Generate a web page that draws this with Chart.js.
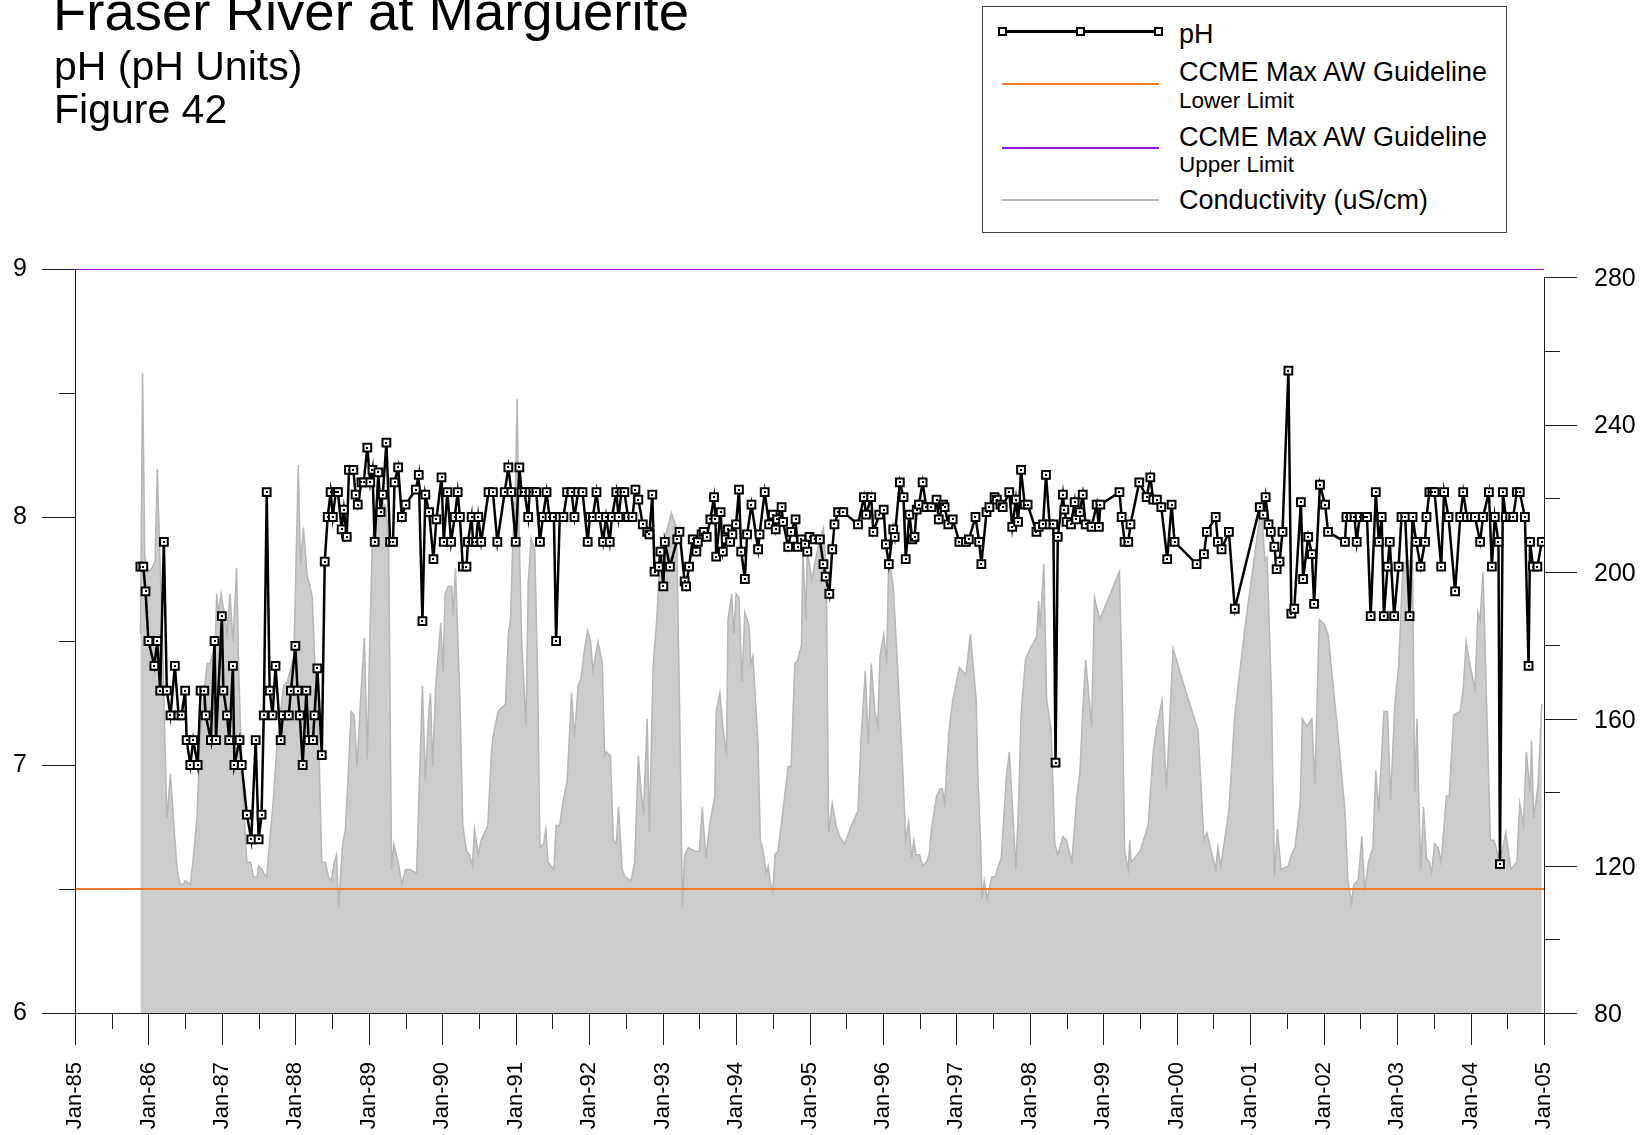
<!DOCTYPE html>
<html>
<head>
<meta charset="utf-8">
<title>Fraser River at Marguerite - pH</title>
<script src="https://cdn.jsdelivr.net/npm/chart.js@4.4.1/dist/chart.umd.min.js"></script>
<style>
  html, body { margin: 0; padding: 0; background: #fff; }
  #wrap { position: relative; width: 1650px; height: 1135px; overflow: hidden;
          font-family: "Liberation Sans", Arial, sans-serif; color: #000; }
  #chart { position: absolute; left: 0; top: 0; }
  .t { position: absolute; white-space: nowrap; }
  #title { left: 53px; top: -15px; font-size: 54.5px; line-height: 54px; }
  .sub { left: 54px; font-size: 41px; line-height: 40px; }
  #legend { position: absolute; left: 982px; top: 6px; width: 525px; height: 227px;
            box-sizing: border-box; border: 1px solid #444; background: #fff; }
  #legend .line { position: absolute; left: 19px; width: 157px; height: 2px; }
  #legend .mark { position: absolute; top: 20px; width: 9px; height: 9px; box-sizing: border-box;
                  border: 2px solid #000; background: #fff; }
  #legend .lt { position: absolute; left: 196px; font-size: 27px; line-height: 26px; white-space: nowrap; }
  #legend .ls { position: absolute; left: 196px; font-size: 22.5px; line-height: 21px; white-space: nowrap; }
</style>
</head>
<body>
<div id="wrap">
  <canvas id="chart" width="1650" height="1135"></canvas>

  <div class="t" id="title">Fraser River at Marguerite</div>
  <div class="t sub" style="top:46px">pH (pH Units)</div>
  <div class="t sub" style="top:89px">Figure 42</div>

  <div id="legend">
    <div class="line" style="top:23px;height:3px;background:#000"></div>
    <div class="mark" style="left:15px"></div>
    <div class="mark" style="left:93px"></div>
    <div class="mark" style="left:171px"></div>
    <div class="lt" style="top:14px">pH</div>

    <div class="line" id="lgLower" style="top:76px"></div>
    <div class="lt" style="top:52px">CCME Max AW Guideline</div>
    <div class="ls" style="top:83px">Lower Limit</div>

    <div class="line" id="lgUpper" style="top:140px"></div>
    <div class="lt" style="top:117px">CCME Max AW Guideline</div>
    <div class="ls" style="top:147px">Upper Limit</div>

    <div class="line" id="lgCond" style="top:192px"></div>
    <div class="lt" style="top:180px">Conductivity (uS/cm)</div>
  </div>
</div>

<script>
// pH samples: decimal year of sampling and value (one line per calendar year)
const phYears = [
  1985.89, 1985.93, 1985.96,
  1986.00, 1986.08, 1986.12, 1986.16, 1986.21, 1986.25, 1986.30, 1986.36, 1986.41, 1986.45, 1986.50, 1986.52, 1986.57, 1986.61, 1986.67, 1986.71, 1986.76, 1986.78, 1986.85, 1986.90, 1986.92,
  1987.00, 1987.02, 1987.07, 1987.10, 1987.15, 1987.17, 1987.24, 1987.27, 1987.34, 1987.40, 1987.46, 1987.50, 1987.54, 1987.57, 1987.61, 1987.65, 1987.69, 1987.73, 1987.80, 1987.83, 1987.91, 1987.94,
  1988.00, 1988.03, 1988.06, 1988.10, 1988.15, 1988.18, 1988.24, 1988.26, 1988.30, 1988.36, 1988.40, 1988.44, 1988.48, 1988.51, 1988.55, 1988.58, 1988.63, 1988.66, 1988.70, 1988.73, 1988.79, 1988.82, 1988.85, 1988.90, 1988.93, 1988.98,
  1989.02, 1989.05, 1989.08, 1989.13, 1989.16, 1989.19, 1989.24, 1989.29, 1989.33, 1989.35, 1989.40, 1989.45, 1989.50, 1989.64, 1989.68, 1989.73, 1989.77, 1989.82, 1989.88, 1989.92, 1989.99,
  1990.02, 1990.07, 1990.12, 1990.17, 1990.21, 1990.24, 1990.28, 1990.33, 1990.35, 1990.40, 1990.42, 1990.46, 1990.49, 1990.53, 1990.63, 1990.69, 1990.75, 1990.85, 1990.90, 1990.94,
  1991.00, 1991.05, 1991.08, 1991.12, 1991.17, 1991.19, 1991.24, 1991.28, 1991.33, 1991.37, 1991.42, 1991.46, 1991.52, 1991.55, 1991.60, 1991.65, 1991.70, 1991.76, 1991.80, 1991.85, 1991.91, 1991.98,
  1992.01, 1992.05, 1992.10, 1992.14, 1992.19, 1992.23, 1992.28, 1992.31, 1992.37, 1992.40, 1992.44, 1992.48, 1992.53, 1992.59, 1992.63, 1992.67, 1992.73, 1992.79, 1992.82, 1992.86, 1992.89, 1992.95, 1992.97,
  1993.01, 1993.03, 1993.10, 1993.20, 1993.23, 1993.30, 1993.32, 1993.36, 1993.41, 1993.46, 1993.48, 1993.53, 1993.56, 1993.60, 1993.65, 1993.70, 1993.72, 1993.73, 1993.79, 1993.82, 1993.86, 1993.89, 1993.92, 1993.95,
  1994.00, 1994.04, 1994.07, 1994.12, 1994.15, 1994.21, 1994.30, 1994.32, 1994.39, 1994.45, 1994.50, 1994.54, 1994.56, 1994.62, 1994.64, 1994.71, 1994.75, 1994.81, 1994.84, 1994.89, 1994.94, 1994.97,
  1995.00, 1995.07, 1995.14, 1995.19, 1995.22, 1995.27, 1995.31, 1995.34, 1995.39, 1995.46, 1995.66, 1995.74, 1995.77, 1995.84, 1995.87, 1995.95,
  1996.01, 1996.04, 1996.08, 1996.14, 1996.16, 1996.23, 1996.28, 1996.31, 1996.36, 1996.40, 1996.43, 1996.46, 1996.49, 1996.54, 1996.59, 1996.66, 1996.73, 1996.76, 1996.82, 1996.84, 1996.89, 1996.95,
  1997.04, 1997.13, 1997.17, 1997.26, 1997.31, 1997.34, 1997.41, 1997.45, 1997.52, 1997.55, 1997.60, 1997.63, 1997.72, 1997.76, 1997.81, 1997.84, 1997.88, 1997.93, 1997.97,
  1998.09, 1998.12, 1998.18, 1998.22, 1998.27, 1998.32, 1998.35, 1998.38, 1998.45, 1998.47, 1998.50, 1998.56, 1998.61, 1998.63, 1998.68, 1998.72, 1998.76, 1998.84, 1998.91, 1998.94, 1998.96,
  1999.22, 1999.25, 1999.29, 1999.34, 1999.37, 1999.49, 1999.59, 1999.64, 1999.68, 1999.73, 1999.79, 1999.87, 1999.93, 1999.97,
  2000.27, 2000.37, 2000.41, 2000.53, 2000.56, 2000.61, 2000.71, 2000.79,
  2001.13, 2001.18, 2001.21, 2001.25, 2001.28, 2001.33, 2001.36, 2001.40, 2001.44, 2001.52, 2001.56, 2001.60, 2001.69, 2001.72, 2001.79, 2001.84, 2001.87, 2001.95,
  2002.02, 2002.06, 2002.29, 2002.31, 2002.37, 2002.42, 2002.45, 2002.49, 2002.56, 2002.59, 2002.64, 2002.71, 2002.75, 2002.79, 2002.82, 2002.87, 2002.90, 2002.96,
  2003.02, 2003.06, 2003.11, 2003.17, 2003.21, 2003.26, 2003.32, 2003.38, 2003.40, 2003.44, 2003.48, 2003.51, 2003.60, 2003.64, 2003.70, 2003.79, 2003.86, 2003.90, 2003.95,
  2004.01, 2004.06, 2004.13, 2004.17, 2004.25, 2004.29, 2004.33, 2004.38, 2004.40, 2004.44, 2004.48, 2004.54, 2004.58, 2004.63, 2004.67, 2004.74, 2004.79, 2004.81, 2004.85, 2004.91, 2004.97
];
const phValues = [
  7.80, 7.80, 7.70,
  7.50, 7.40, 7.50, 7.30, 7.90, 7.30, 7.20, 7.40, 7.20, 7.20, 7.30, 7.10, 7.00, 7.10, 7.00, 7.30, 7.30, 7.20, 7.10, 7.50, 7.10,
  7.60, 7.30, 7.20, 7.10, 7.40, 7.00, 7.10, 7.00, 6.80, 6.70, 7.10, 6.70, 6.80, 7.20, 8.10, 7.30, 7.20, 7.40, 7.10, 7.20, 7.20, 7.30,
  7.48, 7.30, 7.20, 7.00, 7.30, 7.10, 7.10, 7.20, 7.39, 7.04, 7.82, 8.00, 8.10, 8.00, 8.10, 8.10, 7.95, 8.03, 7.92, 8.19, 8.19, 8.09, 8.05, 8.14, 8.14, 8.28,
  8.14, 8.19, 7.90, 8.18, 8.02, 8.09, 8.30, 7.90, 7.90, 8.14, 8.20, 8.00, 8.05, 8.11, 8.17, 7.58, 8.09, 8.02, 7.83, 7.99, 8.16,
  7.90, 8.10, 7.90, 8.00, 8.10, 8.00, 7.80, 7.80, 7.90, 8.00, 7.90, 7.90, 8.00, 7.90, 8.10, 8.10, 7.90, 8.10, 8.20, 8.10,
  7.90, 8.20, 8.10, 8.10, 8.00, 8.10, 8.10, 8.10, 7.90, 8.00, 8.10, 8.00, 8.00, 7.50, 8.00, 8.00, 8.10, 8.10, 8.00, 8.10, 8.10, 7.90,
  8.00, 8.00, 8.10, 8.00, 7.90, 8.00, 7.90, 8.00, 8.10, 8.00, 8.10, 8.10, 8.00, 8.00, 8.11, 8.07, 7.97, 7.94, 7.93, 8.09, 7.78, 7.80, 7.86,
  7.72, 7.90, 7.80, 7.91, 7.94, 7.74, 7.72, 7.80, 7.91, 7.86, 7.90, 7.93, 7.94, 7.92, 7.99, 8.08, 7.99, 7.84, 8.02, 7.86, 7.91, 7.95, 7.90, 7.93,
  7.97, 8.11, 7.86, 7.75, 7.93, 8.05, 7.87, 7.93, 8.10, 7.97, 8.01, 7.95, 7.99, 8.04, 7.98, 7.88, 7.94, 7.99, 7.88, 7.91, 7.89, 7.86,
  7.92, 7.91, 7.91, 7.81, 7.76, 7.69, 7.87, 7.97, 8.02, 8.02, 7.97, 8.08, 8.01, 8.08, 7.94, 8.01,
  8.03, 7.89, 7.81, 7.95, 7.92, 8.14, 8.08, 7.83, 8.01, 7.91, 7.92, 8.03, 8.05, 8.14, 8.04, 8.04, 8.07, 7.99, 8.05, 8.04, 7.97, 7.99,
  7.90, 7.90, 7.91, 8.00, 7.90, 7.81, 8.02, 8.04, 8.08, 8.07, 8.05, 8.04, 8.10, 7.96, 8.07, 7.98, 8.19, 8.05, 8.05,
  7.94, 7.96, 7.97, 8.17, 7.97, 7.97, 7.01, 7.92, 8.09, 8.03, 7.98, 7.97, 8.06, 7.99, 8.02, 8.09, 7.97, 7.96, 8.05, 7.96, 8.05,
  8.10, 8.00, 7.90, 7.90, 7.97, 8.14, 8.08, 8.16, 8.07, 8.07, 8.04, 7.83, 8.05, 7.90,
  7.81, 7.85, 7.94, 8.00, 7.90, 7.87, 7.94, 7.63,
  8.04, 8.01, 8.08, 7.97, 7.94, 7.88, 7.79, 7.82, 7.94, 8.59, 7.61, 7.63, 8.06, 7.75, 7.92, 7.85, 7.65, 8.13,
  8.05, 7.94, 7.90, 8.00, 8.00, 8.00, 7.90, 8.00, 8.00, 8.00, 7.60, 8.10, 7.90, 8.00, 7.60, 7.80, 7.90, 7.60,
  7.80, 8.00, 8.00, 7.60, 8.00, 7.90, 7.80, 7.90, 8.00, 8.10, 8.10, 8.10, 7.80, 8.10, 8.00, 7.70, 8.00, 8.10, 8.00,
  8.00, 8.00, 7.90, 8.00, 8.10, 7.80, 8.00, 7.90, 6.60, 8.10, 8.00, 8.00, 8.00, 8.10, 8.10, 8.00, 7.40, 7.90, 7.80, 7.80, 7.90
];

// conductivity (uS/cm), right axis
const condYears = [
  1985.89, 1985.92, 1985.95,
  1986.00, 1986.05, 1986.09, 1986.12, 1986.16, 1986.20, 1986.25, 1986.30, 1986.34, 1986.39, 1986.43, 1986.48, 1986.50, 1986.57, 1986.61, 1986.66, 1986.70, 1986.75, 1986.80, 1986.84, 1986.91, 1986.93, 1986.95, 1986.99,
  1987.03, 1987.07, 1987.11, 1987.15, 1987.20, 1987.23, 1987.25, 1987.30, 1987.34, 1987.39, 1987.43, 1987.48, 1987.50, 1987.55, 1987.57, 1987.61, 1987.66, 1987.70, 1987.75, 1987.80, 1987.84, 1987.89, 1987.93, 1987.98,
  1988.04, 1988.07, 1988.11, 1988.16, 1988.20, 1988.23, 1988.27, 1988.32, 1988.36, 1988.41, 1988.45, 1988.49, 1988.53, 1988.56, 1988.59, 1988.64, 1988.68, 1988.71, 1988.76, 1988.80, 1988.84, 1988.89, 1988.94, 1988.98,
  1989.01, 1989.05, 1989.09, 1989.14, 1989.18, 1989.23, 1989.27, 1989.31, 1989.34, 1989.40, 1989.45, 1989.50, 1989.56, 1989.65, 1989.73, 1989.77, 1989.82, 1989.84, 1989.87, 1989.91, 1989.98,
  1990.01, 1990.04, 1990.08, 1990.13, 1990.15, 1990.18, 1990.24, 1990.28, 1990.33, 1990.37, 1990.41, 1990.44, 1990.49, 1990.53, 1990.62, 1990.67, 1990.69, 1990.76, 1990.86, 1990.90, 1990.93, 1990.96, 1990.99,
  1991.02, 1991.04, 1991.08, 1991.14, 1991.17, 1991.21, 1991.26, 1991.30, 1991.33, 1991.38, 1991.41, 1991.44, 1991.52, 1991.55, 1991.60, 1991.64, 1991.70, 1991.76, 1991.80, 1991.85, 1991.89, 1991.93, 1991.98,
  1992.02, 1992.05, 1992.12, 1992.18, 1992.21, 1992.23, 1992.29, 1992.33, 1992.37, 1992.40, 1992.45, 1992.49, 1992.57, 1992.62, 1992.67, 1992.70, 1992.74, 1992.79, 1992.82, 1992.87, 1992.92, 1992.96,
  1993.03, 1993.12, 1993.19, 1993.23, 1993.27, 1993.30, 1993.35, 1993.44, 1993.50, 1993.54, 1993.59, 1993.64, 1993.71, 1993.73, 1993.78, 1993.82, 1993.87, 1993.89, 1993.94, 1993.97,
  1994.00, 1994.04, 1994.08, 1994.12, 1994.18, 1994.20, 1994.23, 1994.30, 1994.33, 1994.37, 1994.41, 1994.44, 1994.46, 1994.50, 1994.53, 1994.57, 1994.62, 1994.71, 1994.75, 1994.80, 1994.84, 1994.89, 1994.91, 1994.95, 1994.97,
  1995.03, 1995.09, 1995.14, 1995.19, 1995.23, 1995.26, 1995.31, 1995.36, 1995.41, 1995.48, 1995.57, 1995.66, 1995.70, 1995.76, 1995.80, 1995.84, 1995.89, 1995.93, 1995.96,
  1996.01, 1996.05, 1996.08, 1996.14, 1996.20, 1996.27, 1996.31, 1996.35, 1996.39, 1996.42, 1996.45, 1996.50, 1996.54, 1996.59, 1996.63, 1996.66, 1996.73, 1996.78, 1996.81, 1996.84, 1996.90, 1996.95,
  1997.04, 1997.13, 1997.19, 1997.27, 1997.29, 1997.33, 1997.35, 1997.38, 1997.42, 1997.48, 1997.53, 1997.57, 1997.61, 1997.68, 1997.72, 1997.75, 1997.81, 1997.85, 1997.88, 1997.94,
  1998.00, 1998.09, 1998.12, 1998.14, 1998.19, 1998.23, 1998.29, 1998.34, 1998.38, 1998.45, 1998.50, 1998.57, 1998.61, 1998.64, 1998.68, 1998.72, 1998.76, 1998.84, 1998.88, 1998.95,
  1999.22, 1999.26, 1999.29, 1999.34, 1999.36, 1999.38, 1999.50, 1999.61, 1999.68, 1999.72, 1999.80, 1999.86, 1999.95,
  2000.04, 2000.13, 2000.29, 2000.37, 2000.41, 2000.47, 2000.53, 2000.56, 2000.60, 2000.71, 2000.79, 2000.93,
  2001.11, 2001.15, 2001.20, 2001.23, 2001.29, 2001.33, 2001.37, 2001.42, 2001.52, 2001.56, 2001.61, 2001.68, 2001.71, 2001.77, 2001.84, 2001.88, 2001.94,
  2002.00, 2002.06, 2002.18, 2002.29, 2002.33, 2002.38, 2002.41, 2002.47, 2002.52, 2002.56, 2002.61, 2002.67, 2002.71, 2002.75, 2002.82, 2002.87, 2002.91, 2002.97,
  2003.02, 2003.08, 2003.13, 2003.21, 2003.24, 2003.27, 2003.32, 2003.36, 2003.40, 2003.44, 2003.47, 2003.51, 2003.56, 2003.60, 2003.67, 2003.71, 2003.77, 2003.86, 2003.90, 2003.94, 2003.99,
  2004.06, 2004.10, 2004.13, 2004.17, 2004.27, 2004.32, 2004.40, 2004.48, 2004.55, 2004.63, 2004.67, 2004.72, 2004.76, 2004.81, 2004.83, 2004.86, 2004.92, 2004.97
];
const condValues = [
  183, 254, 204,
  200, 201, 203, 228, 201, 174, 133, 145, 133, 119, 115, 115, 116, 115, 122, 133, 153, 166, 175, 175, 181, 194, 189, 194,
  189, 183, 194, 181, 201, 173, 159, 135, 121, 121, 117, 117, 120, 119, 118, 117, 129, 138, 153, 162, 169, 170, 173, 177,
  229, 202, 212, 199, 196, 193, 173, 153, 121, 121, 117, 116, 121, 123, 109, 125, 130, 141, 162, 161, 147, 166, 182, 149,
  179, 209, 214, 217, 219, 218, 209, 119, 126, 121, 115, 119, 119, 118, 169, 143, 163, 167, 147, 169, 186,
  173, 194, 196, 196, 188, 201, 166, 131, 124, 123, 120, 130, 123, 127, 131, 151, 155, 162, 164, 183, 187, 208, 217,
  247, 217, 182, 158, 197, 209, 206, 170, 125, 126, 130, 121, 119, 131, 131, 137, 143, 167, 155, 169, 171, 178, 184,
  181, 173, 181, 175, 150, 151, 150, 127, 126, 136, 119, 117, 116, 121, 150, 142, 134, 160, 129, 174, 187, 202,
  209, 216, 212, 165, 109, 123, 125, 124, 124, 136, 122, 131, 139, 162, 167, 158, 150, 187, 194, 183,
  194, 193, 170, 189, 185, 175, 177, 153, 127, 124, 118, 120, 116, 113, 123, 124, 132, 147, 147, 175, 176, 180, 206, 187, 206,
  198, 204, 209, 212, 200, 129, 137, 131, 128, 126, 131, 135, 154, 173, 153, 175, 162, 158, 177,
  183, 175, 204, 196, 174, 146, 127, 132, 122, 127, 123, 123, 120, 121, 123, 130, 139, 141, 141, 137, 157, 165,
  174, 172, 183, 165, 146, 126, 111, 116, 111, 117, 117, 120, 122, 144, 151, 141, 119, 139, 161, 176,
  179, 182, 192, 185, 202, 165, 157, 126, 123, 128, 127, 121, 131, 139, 145, 162, 176, 158, 193, 187,
  200, 166, 124, 119, 127, 121, 124, 131, 151, 157, 165, 141, 179,
  173, 167, 157, 127, 129, 124, 119, 125, 120, 135, 161, 185,
  212, 218, 203, 204, 166, 117, 130, 119, 120, 123, 125, 137, 160, 158, 160, 142, 187,
  186, 183, 159, 135, 116, 110, 115, 116, 128, 113, 121, 125, 146, 135, 162, 162, 138, 164,
  174, 202, 203, 203, 140, 160, 119, 136, 122, 121, 118, 126, 125, 121, 139, 139, 161, 162, 168, 181, 175,
  168, 189, 187, 200, 127, 127, 121, 129, 119, 121, 137, 131, 151, 140, 154, 133, 142, 164
];

// CCME aquatic-life guideline limits for pH
const guideLower = 6.5;
const guideUpper = 9;
const dateRange = [1985, 2005];

// axis labels
const yearLabels = ['Jan-85', 'Jan-86', 'Jan-87', 'Jan-88', 'Jan-89', 'Jan-90', 'Jan-91', 'Jan-92', 'Jan-93', 'Jan-94',
  'Jan-95', 'Jan-96', 'Jan-97', 'Jan-98', 'Jan-99', 'Jan-00', 'Jan-01', 'Jan-02', 'Jan-03', 'Jan-04', 'Jan-05'];
const phLabels = [6, 7, 8, 9];
const condLabels = [80, 120, 160, 200, 240, 280];

const orange = '#f37a22';
const purple = '#9a12d6';
const condLine = '#b6b6b6';
const condFill = '#cccccc';

document.getElementById('lgLower').style.background = orange;
document.getElementById('lgUpper').style.background = purple;
document.getElementById('lgCond').style.background = condLine;

const toPoints = (xs, ys) => xs.map((x, i) => ({ x, y: ys[i] }));

// axis lines and tick marks (long ticks on labelled values, short ones between)
const axisTicks = {
  id: 'axisTicks',
  afterDraw(chart) {
    const { ctx, chartArea: a, scales } = chart;
    const { x, y, y2 } = scales;
    const px = v => Math.round(v) + 0.5;
    ctx.save();
    ctx.strokeStyle = '#1a1a1a';
    ctx.lineWidth = 1;
    ctx.beginPath();
    ctx.moveTo(px(a.left), a.top);
    ctx.lineTo(px(a.left), a.bottom);
    ctx.moveTo(a.left, px(a.bottom));
    ctx.lineTo(a.right, px(a.bottom));
    ctx.moveTo(px(a.right), y2.getPixelForValue(condLabels[condLabels.length - 1]));
    ctx.lineTo(px(a.right), a.bottom);
    x.ticks.forEach(t => {
      const p = px(x.getPixelForValue(t.value));
      ctx.moveTo(p, a.bottom);
      ctx.lineTo(p, a.bottom + (Number.isInteger(t.value) ? 32 : 16));
    });
    y.ticks.forEach(t => {
      const p = px(y.getPixelForValue(t.value));
      ctx.moveTo(a.left, p);
      ctx.lineTo(a.left - (phLabels.includes(t.value) ? 33 : 16), p);
    });
    y2.ticks.forEach(t => {
      const p = px(y2.getPixelForValue(t.value));
      ctx.moveTo(a.right, p);
      ctx.lineTo(a.right + (condLabels.includes(t.value) ? 33 : 16), p);
    });
    ctx.stroke();
    ctx.restore();
  }
};

// small centre dot inside each open square marker
const markerDots = {
  id: 'markerDots',
  afterDatasetsDraw(chart) {
    const { ctx } = chart;
    ctx.save();
    ctx.fillStyle = '#000';
    chart.getDatasetMeta(0).data.forEach(pt => {
      ctx.fillRect(Math.round(pt.x) - 1, Math.round(pt.y) - 1, 2, 2);
    });
    ctx.restore();
  }
};

const tickFont = { family: '"Liberation Sans", Arial, sans-serif', size: 25 };

new Chart(document.getElementById('chart'), {
  type: 'line',
  data: {
    datasets: [
      {
        label: 'pH',
        data: toPoints(phYears, phValues),
        yAxisID: 'y',
        borderColor: '#000',
        borderWidth: 2.5,
        pointStyle: 'rect',
        pointRadius: 5.5,
        pointBorderWidth: 2,
        pointBorderColor: '#000',
        pointBackgroundColor: '#fff',
        tension: 0
      },
      {
        label: 'CCME Max AW Guideline Lower Limit',
        data: toPoints(dateRange, [guideLower, guideLower]),
        yAxisID: 'y',
        borderColor: orange,
        borderWidth: 2,
        pointRadius: 0
      },
      {
        label: 'CCME Max AW Guideline Upper Limit',
        data: toPoints(dateRange, [guideUpper, guideUpper]),
        yAxisID: 'y',
        borderColor: purple,
        borderWidth: 2,
        pointRadius: 0
      },
      {
        label: 'Conductivity (uS/cm)',
        data: toPoints(condYears, condValues),
        yAxisID: 'y2',
        borderColor: condLine,
        borderWidth: 1.5,
        backgroundColor: condFill,
        fill: 'start',
        pointRadius: 0,
        tension: 0
      }
    ]
  },
  options: {
    responsive: false,
    animation: false,
    events: [],
    layout: { padding: { top: 269, left: 0, right: 0, bottom: 0 } },
    plugins: {
      legend: { display: false },
      tooltip: { enabled: false }
    },
    scales: {
      x: {
        type: 'linear',
        min: dateRange[0],
        max: dateRange[1],
        grid: { display: false, drawTicks: false },
        border: { display: false },
        ticks: {
          stepSize: 0.5,
          maxTicksLimit: 100,
          autoSkip: false,
          minRotation: 90,
          maxRotation: 90,
          padding: 49,
          color: '#000',
          font: { family: tickFont.family, size: 22 },
          callback: v => Number.isInteger(v) ? yearLabels[v - dateRange[0]] : ''
        },
        afterFit: s => { s.height = 122; }
      },
      y: {
        position: 'left',
        min: 6,
        max: 9,
        grid: { display: false, drawTicks: false },
        border: { display: false },
        ticks: {
          stepSize: 0.5,
          maxTicksLimit: 100,
          autoSkip: false,
          padding: 48,
          color: '#000',
          font: tickFont,
          callback: v => phLabels.includes(v) ? String(v) : ''
        },
        afterFit: s => { s.width = 75; }
      },
      y2: {
        position: 'right',
        min: 80,
        max: 282.3,
        grid: { display: false, drawTicks: false },
        border: { display: false },
        ticks: {
          stepSize: 20,
          includeBounds: false,
          maxTicksLimit: 100,
          autoSkip: false,
          padding: 50,
          labelOffset: 2,
          color: '#000',
          font: tickFont,
          callback: v => condLabels.includes(v) ? String(v) : ''
        },
        afterFit: s => { s.width = 106; }
      }
    }
  },
  plugins: [axisTicks, markerDots]
});
</script>
</body>
</html>
